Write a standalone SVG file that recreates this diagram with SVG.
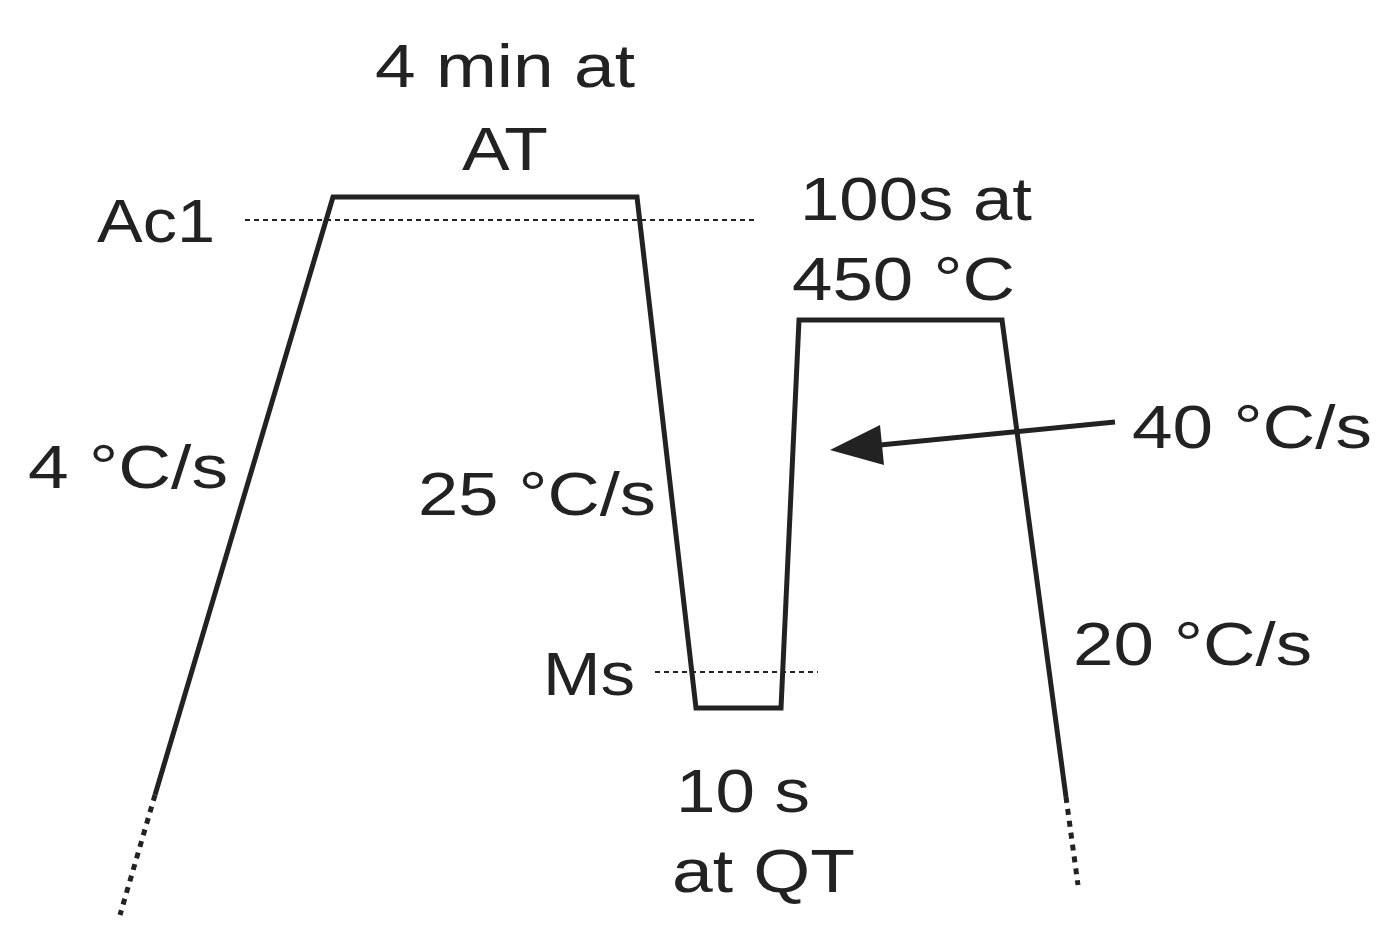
<svg xmlns="http://www.w3.org/2000/svg" width="1395" height="940" viewBox="0 0 1395 940">
<style>
text{font-family:"Liberation Sans",Arial,sans-serif;font-size:62px;fill:#222}
.c{fill:none;stroke:#222;stroke-width:5;stroke-linejoin:miter}
.d{fill:none;stroke:#222;stroke-width:5;stroke-dasharray:6 6}
.t{fill:none;stroke:#222;stroke-width:2;stroke-dasharray:5 4}
</style>
<rect width="1395" height="940" fill="#fff"/>
<g id="curve">
<polyline class="c" points="155,795 333,197 637,197 696,708 781,708 799,320 1002,320 1066,797"/>
<line class="d" x1="155" y1="795" x2="120" y2="915"/>
<line class="d" x1="1066" y1="797" x2="1078" y2="885"/>
<line class="t" x1="245" y1="220" x2="755" y2="220"/>
<line class="t" x1="655" y1="672" x2="818" y2="672"/>
</g>
<g id="connectors">
<line x1="1115" y1="422" x2="880" y2="445" stroke="#222" stroke-width="5"/>
<polygon points="830,450 880,425 884,465" fill="#222"/>
</g>
<g id="labels">
<text x="375" y="87" textLength="260" lengthAdjust="spacingAndGlyphs">4 min at</text>
<text x="462" y="170" textLength="86" lengthAdjust="spacingAndGlyphs">AT</text>
<text x="97" y="242" textLength="118" lengthAdjust="spacingAndGlyphs">Ac1</text>
<text x="800" y="220" textLength="232" lengthAdjust="spacingAndGlyphs">100s at</text>
<text x="792" y="300" textLength="223" lengthAdjust="spacingAndGlyphs">450 °C</text>
<text x="1132" y="448" textLength="240" lengthAdjust="spacingAndGlyphs">40 °C/s</text>
<text x="28" y="488" textLength="200" lengthAdjust="spacingAndGlyphs">4 °C/s</text>
<text x="418" y="515" textLength="238" lengthAdjust="spacingAndGlyphs">25 °C/s</text>
<text x="1073" y="665" textLength="239" lengthAdjust="spacingAndGlyphs">20 °C/s</text>
<text x="543" y="695" textLength="92" lengthAdjust="spacingAndGlyphs">Ms</text>
<text x="676" y="812" textLength="134" lengthAdjust="spacingAndGlyphs">10 s</text>
<text x="672" y="892" textLength="183" lengthAdjust="spacingAndGlyphs">at QT</text>
</g>
</svg>
